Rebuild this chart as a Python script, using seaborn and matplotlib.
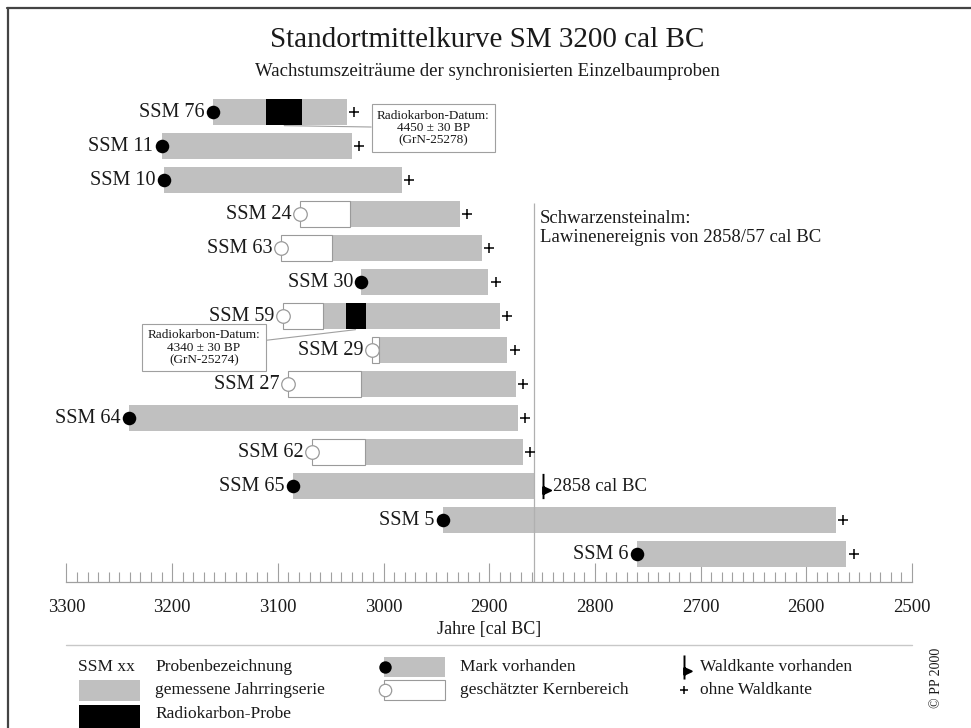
import numpy as np
import pandas as pd
import matplotlib
matplotlib.use('Agg')
import matplotlib.pyplot as plt
from matplotlib.path import Path
from matplotlib.ticker import MultipleLocator
from matplotlib.patches import Rectangle
import seaborn as sns

# --- data (years cal BC) ---
labels = ['SSM 76', 'SSM 11', 'SSM 10', 'SSM 24', 'SSM 63', 'SSM 30', 'SSM 59',
          'SSM 29', 'SSM 27', 'SSM 64', 'SSM 62', 'SSM 65', 'SSM 5', 'SSM 6']
start = [3161, 3210, 3208, 3079, 3097, 3021, 3095, 3011, 3090, 3241, 3068, 3086, 2944, 2760]
measured = [3161, 3210, 3208, 3032, 3049, 3021, 3057, 3004, 3021, 3241, 3018, 3086, 2944, 2760]
end = [3035, 3030, 2983, 2928, 2907, 2901, 2890, 2883, 2875, 2873, 2868, 2858, 2572, 2562]
pith = [True, True, True, False, False, True, False, False, False, True, False, True, True, True]
waldkante = [False] * 11 + [True, False, False]

rc_labels = ['SSM 76', 'SSM 59']
rc_from = [3111, 3036]
rc_to = [3077, 3017]
rc_dates = ['4450 ± 30 BP', '4340 ± 30 BP']
rc_codes = ['GrN-25278', 'GrN-25274']
rc_box_pos = [(2953, 0.47), (3170, 6.93)]

event_year = 2858
event_text = 'Schwarzensteinalm:\nLawinenereignis von 2858/57 cal BC'

df = pd.DataFrame(dict(label=labels, start=start, measured=measured, end=end,
                       pith=pith, waldkante=waldkante))
df['row'] = np.arange(len(df))
df['plus_x'] = df.end - 7

sns.set_theme(style='white')
plt.rcParams['font.family'] = ['Liberation Serif', 'DejaVu Serif']
TXT = '#1a1a1a'
GREY = '#c0c0c0'
EDGE = '#9a9a9a'
BAR_H = 0.78

W, H = 971, 728
fig = plt.figure(figsize=(W / 100, H / 100), dpi=100)

# background axes in pixel units for frame, titles and legend
bg = fig.add_axes([0, 0, 1, 1])
bg.set_xlim(0, W)
bg.set_ylim(H, 0)
bg.axis('off')

# waldkante marker: stem with small flag
wk_path = Path([(0, -1), (0, 1), (0, -0.05), (0.6, -0.32), (0, -0.6), (0, -0.05)],
               [Path.MOVETO, Path.LINETO, Path.MOVETO, Path.LINETO, Path.LINETO, Path.CLOSEPOLY])

ax = fig.add_axes([66.5 / W, 1 - 582 / H, (912 - 66.5) / W, (582 - 94) / H])
ax.patch.set_alpha(0)

# measured ring series
ax.barh(df.row, df.end - df.measured, left=df.measured, height=BAR_H, color=GREY,
        linewidth=0, zorder=2)
# estimated core range
core = df[~df.pith]
ax.barh(core.row, core.measured - core.start, left=core.start, height=BAR_H,
        color='white', edgecolor=EDGE, linewidth=0.8, zorder=2)
# radiocarbon samples
for lab, f, t in zip(rc_labels, rc_from, rc_to):
    r = labels.index(lab)
    ax.barh(r, t - f, left=f, height=BAR_H, color='black', linewidth=0, zorder=3)

# event line
ax.vlines(event_year, 3 - 0.32, 13.82, color='#b0b0b0', lw=0.9, zorder=2.5)

# pith / core markers
sns.scatterplot(data=df[df.pith], x='start', y='row', color='black', s=95,
                linewidth=0, zorder=4, ax=ax, legend=False)
sns.scatterplot(data=core, x='start', y='row', color='white', edgecolor=EDGE, s=95,
                linewidth=0.9, zorder=4, ax=ax, legend=False)
# without waldkante
sns.scatterplot(data=df[~df.waldkante], x='plus_x', y='row', marker='+', color='black',
                edgecolor='black', s=45, linewidth=1.1, zorder=4, ax=ax, legend=False)
# with waldkante
wk = df[df.waldkante]
ax.scatter(wk.end - 9, wk.row, marker=wk_path, s=330, color='black', linewidth=1.4, zorder=4)
for _, r in wk.iterrows():
    ax.text(r.end - 18, r.row, f'{event_year} cal BC', ha='left', va='center',
            fontsize=13.5, color=TXT)

# sample labels
for _, r in df.iterrows():
    ax.text(r.start + 8, r.row, r.label, ha='right', va='center', fontsize=14.5, color=TXT)

ax.text(event_year - 6, 3.42, event_text, ha='left', va='center', fontsize=13.5,
        color=TXT, linespacing=1.15)

# radiocarbon annotations
for lab, f, t, d, c, pos in zip(rc_labels, rc_from, rc_to, rc_dates, rc_codes, rc_box_pos):
    r = labels.index(lab)
    ax.annotate(f'Radiokarbon-Datum:\n{d}\n({c})', xy=((f + t) / 2, r + 0.4), xytext=pos,
                textcoords='data', ha='center', va='center', fontsize=9.5, color=TXT,
                linespacing=1.05, zorder=6,
                bbox=dict(boxstyle='square,pad=0.4', fc='white', ec='#a0a0a0', lw=0.8),
                arrowprops=dict(arrowstyle='-', color='#a0a0a0', lw=0.8,
                                shrinkA=0, shrinkB=0))

ax.set_xlim(3300, 2500)
ax.set_ylim(13.82, -0.53)
ax.set_xticks(range(3300, 2499, -100))
ax.xaxis.set_minor_locator(MultipleLocator(10))
ax.set_yticks([])
ax.set_ylabel('')
for s in ['top', 'left', 'right']:
    ax.spines[s].set_visible(False)
ax.spines['bottom'].set_color('#a0a0a0')
ax.spines['bottom'].set_linewidth(0.9)
ax.tick_params(axis='x', which='both', bottom=True)
ax.tick_params(axis='x', which='major', direction='in', length=14, width=0.8,
               color='#a0a0a0', pad=12, labelsize=13.5, labelcolor=TXT)
ax.tick_params(axis='x', which='minor', direction='in', length=7, width=0.8, color='#a0a0a0')
ax.set_xlabel('Jahre [cal BC]', fontsize=13, color=TXT, labelpad=4)

# frame
bg.plot([7.5, 7.5], [8, H], color='#444444', lw=1.6)
bg.plot([7, W], [8, 8], color='#444444', lw=1.6)

# titles
bg.text(487, 40, 'Standortmittelkurve SM 3200 cal BC', ha='center', va='center',
        fontsize=21, color=TXT)
bg.text(487, 72, 'Wachstumszeiträume der synchronisierten Einzelbaumproben',
        ha='center', va='center', fontsize=13.5, color=TXT)

# legend
bg.plot([66, 912], [645, 645], color='#c8c8c8', lw=1)
LF = 12.5
bg.text(78, 667, 'SSM xx', ha='left', va='center', fontsize=LF, color=TXT)
bg.text(155, 667, 'Probenbezeichnung', ha='left', va='center', fontsize=LF, color=TXT)
bg.add_patch(Rectangle((79, 680), 61, 21, color=GREY, lw=0))
bg.text(155, 690, 'gemessene Jahrringserie', ha='left', va='center', fontsize=LF, color=TXT)
bg.add_patch(Rectangle((79, 705), 61, 23, color='black', lw=0))
bg.text(155, 714, 'Radiokarbon-Probe', ha='left', va='center', fontsize=LF, color=TXT)

bg.add_patch(Rectangle((384, 657), 61, 20, color=GREY, lw=0))
bg.scatter([385], [667], s=80, color='black', linewidth=0, zorder=3)
bg.text(460, 667, 'Mark vorhanden', ha='left', va='center', fontsize=LF, color=TXT)
bg.add_patch(Rectangle((384, 680), 61, 20, fc='white', ec=EDGE, lw=0.8))
bg.scatter([385], [690], s=80, color='white', edgecolor=EDGE, linewidth=0.9, zorder=3)
bg.text(460, 690, 'geschätzter Kernbereich', ha='left', va='center', fontsize=LF, color=TXT)

bg.scatter([684], [667], marker=wk_path, s=300, color='black', linewidth=1.4)
bg.text(700, 667, 'Waldkante vorhanden', ha='left', va='center', fontsize=LF, color=TXT)
bg.scatter([684], [690], marker='+', s=40, color='black', linewidth=1.1)
bg.text(700, 690, 'ohne Waldkante', ha='left', va='center', fontsize=LF, color=TXT)

bg.text(937, 678, '© PP 2000', rotation=90, ha='center', va='center', fontsize=10, color=TXT)

fig.savefig('out.png', dpi=100)
